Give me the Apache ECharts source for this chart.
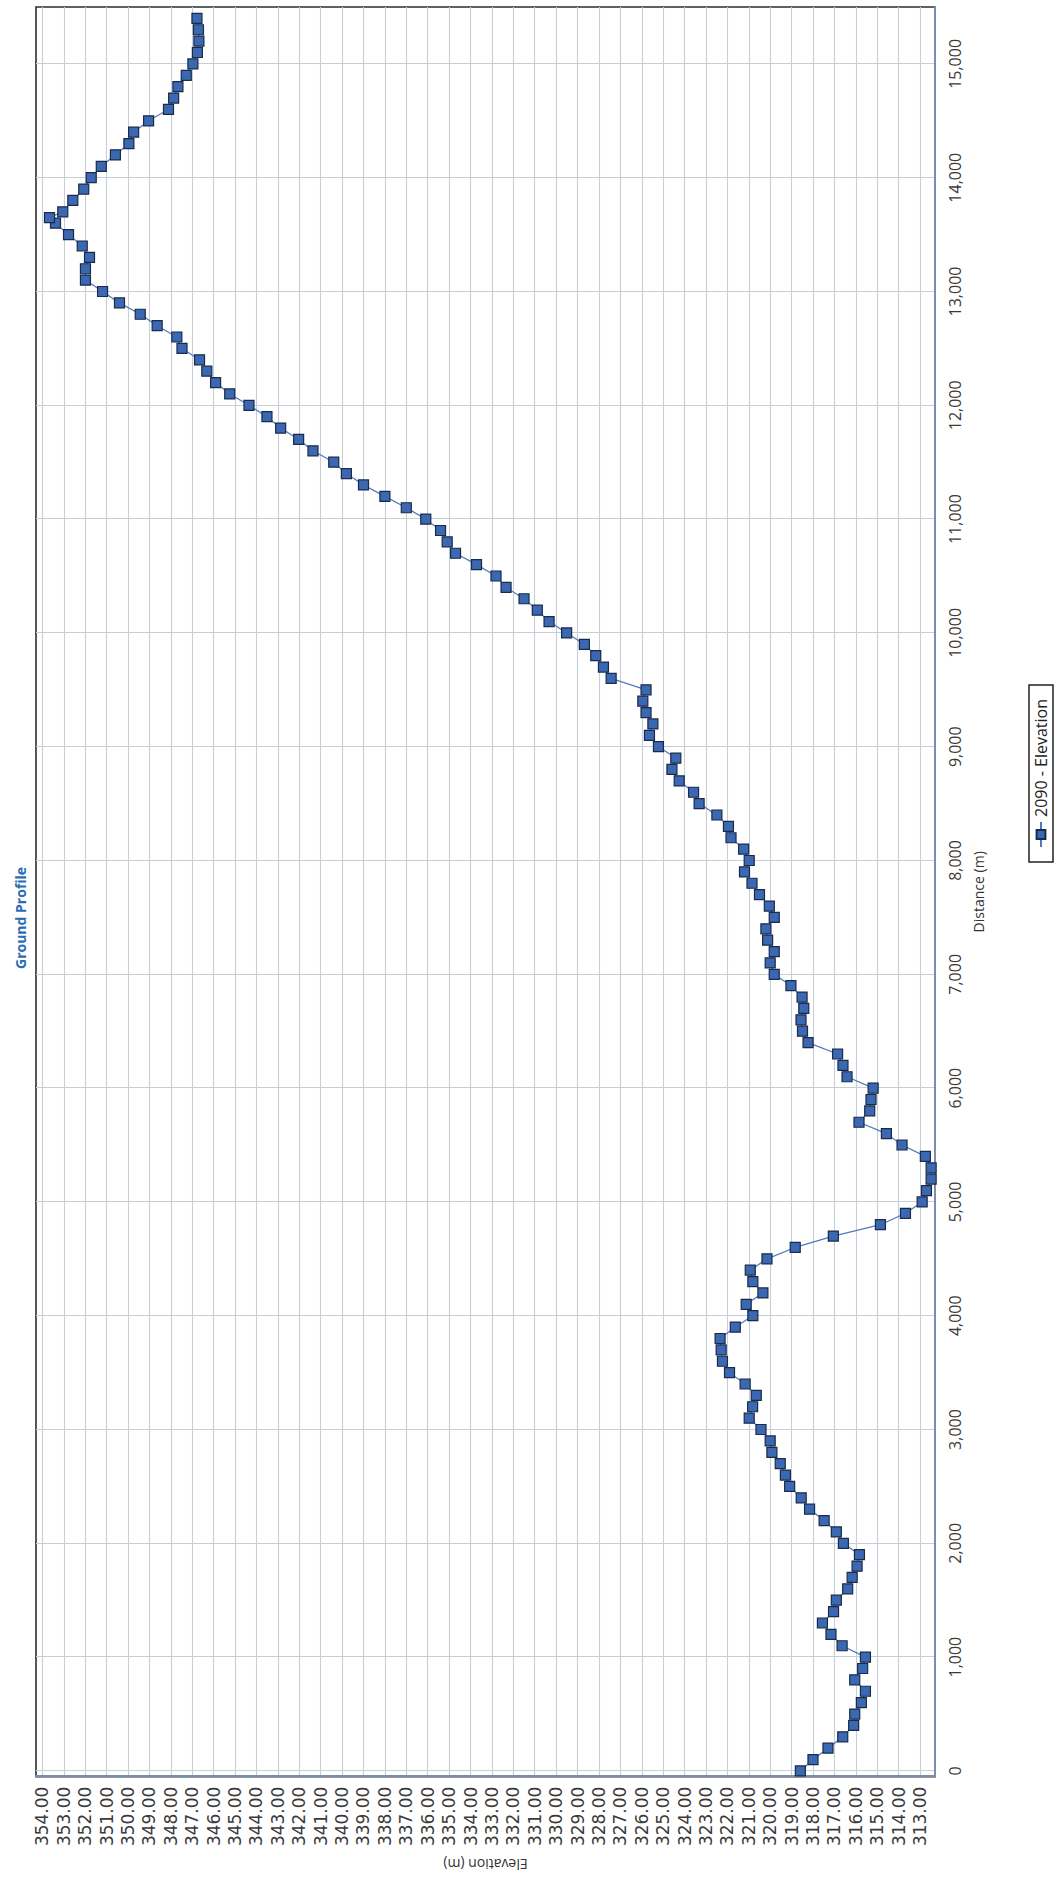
<!DOCTYPE html>
<html>
<head>
<meta charset="utf-8">
<script src="https://cdn.jsdelivr.net/npm/echarts@6/dist/echarts.min.js"></script>
<style>
  html, body { margin: 0; padding: 0; background: #ffffff; overflow: hidden; }
  body { width: 1058px; height: 1879px; position: relative; }
  /* the profile is laid out landscape and turned a quarter turn to fit the portrait page */
  #turn {
    position: absolute; left: 0; top: 0;
    width: 1879px; height: 1058px;
    transform-origin: 0 0;
    transform: translateY(1879px) rotate(-90deg);
  }
  #chart { width: 1879px; height: 1058px; }
</style>
</head>
<body>
<div id="turn"><div id="chart"></div></div>
<script>
// Station chainage along the alignment (m)
const distances = [
  0, 100, 200, 300, 400, 500, 600, 700, 800, 900,
  1000, 1100, 1200, 1300, 1400, 1500, 1600, 1700, 1800, 1900,
  2000, 2100, 2200, 2300, 2400, 2500, 2600, 2700, 2800, 2900,
  3000, 3100, 3200, 3300, 3400, 3500, 3600, 3700, 3800, 3900,
  4000, 4100, 4200, 4300, 4400, 4500, 4600, 4700, 4800, 4900,
  5000, 5100, 5200, 5300, 5400, 5500, 5600, 5700, 5800, 5900,
  6000, 6100, 6200, 6300, 6400, 6500, 6600, 6700, 6800, 6900,
  7000, 7100, 7200, 7300, 7400, 7500, 7600, 7700, 7800, 7900,
  8000, 8100, 8200, 8300, 8400, 8500, 8600, 8700, 8800, 8900,
  9000, 9100, 9200, 9300, 9400, 9500, 9600, 9700, 9800, 9900,
  10000, 10100, 10200, 10300, 10400, 10500, 10600, 10700, 10800, 10900,
  11000, 11100, 11200, 11300, 11400, 11500, 11600, 11700, 11800, 11900,
  12000, 12100, 12200, 12300, 12400, 12500, 12600, 12700, 12800, 12900,
  13000, 13100, 13200, 13300, 13400, 13500, 13600, 13650, 13700, 13800, 13900,
  14000, 14100, 14200, 14300, 14400, 14500, 14600, 14700, 14800, 14900,
  15000, 15100, 15200, 15300, 15400
];

// Ground elevation at each station (m)
const elevations = [
  318.59, 318.00, 317.30, 316.61, 316.10, 316.05, 315.74, 315.55, 316.05, 315.68,
  315.55, 316.64, 317.16, 317.56, 317.04, 316.91, 316.38, 316.17, 315.94, 315.83,
  316.58, 316.91, 317.48, 318.16, 318.55, 319.09, 319.29, 319.53, 319.92, 320.00,
  320.43, 320.98, 320.82, 320.65, 321.17, 321.90, 322.23, 322.29, 322.34, 321.63,
  320.81, 321.12, 320.34, 320.81, 320.93, 320.15, 318.83, 317.05, 314.85, 313.68,
  312.90, 312.70, 312.48, 312.48, 312.75, 313.84, 314.57, 315.85, 315.35, 315.29,
  315.19, 316.41, 316.60, 316.85, 318.23, 318.49, 318.56, 318.43, 318.51, 319.03,
  319.81, 320.00, 319.81, 320.12, 320.20, 319.81, 320.04, 320.50, 320.85, 321.20,
  320.98, 321.24, 321.83, 321.95, 322.49, 323.32, 323.58, 324.25, 324.59, 324.41,
  325.22, 325.64, 325.48, 325.80, 325.95, 325.80, 327.43, 327.79, 328.15, 328.68,
  329.51, 330.33, 330.88, 331.50, 332.34, 332.81, 333.72, 334.70, 335.09, 335.40,
  336.09, 337.00, 338.00, 339.00, 339.80, 340.39, 341.36, 342.03, 342.87, 343.51,
  344.35, 345.25, 345.91, 346.32, 346.66, 347.48, 347.72, 348.64, 349.43, 350.40,
  351.19, 351.99, 351.99, 351.80, 352.14, 352.78, 353.39, 353.67, 353.05, 352.58, 352.07,
  351.72, 351.25, 350.59, 349.96, 349.74, 349.04, 348.11, 347.87, 347.67, 347.28,
  346.97, 346.76, 346.69, 346.71, 346.78
];

// Axis ticks
const distanceTicks = [0, 1000, 2000, 3000, 4000, 5000, 6000, 7000, 8000,
  9000, 10000, 11000, 12000, 13000, 14000, 15000];
const elevationTicks = [313, 314, 315, 316, 317, 318, 319, 320, 321, 322, 323,
  324, 325, 326, 327, 328, 329, 330, 331, 332, 333, 334, 335, 336, 337, 338,
  339, 340, 341, 342, 343, 344, 345, 346, 347, 348, 349, 350, 351, 352, 353, 354];

const seriesName = '2090 - Elevation';

const points = distances.map((d, i) => [d, elevations[i]]);

const chart = echarts.init(document.getElementById('chart'), null, { renderer: 'svg' });

const gridLine = { show: true, lineStyle: { color: '#c8ced8', width: 1.1 } };

chart.setOption({
  animation: false,
  backgroundColor: '#ffffff',
  title: {
    text: 'Ground Profile',
    left: 905,
    top: 8,
    textStyle: { fontFamily: 'Open Sans', fontSize: 14, fontWeight: 'bold', color: '#2b6cb4' }
  },
  legend: {
    data: [seriesName],
    left: 1017,
    top: 1029,
    orient: 'horizontal',
    padding: [4, 14],
    itemWidth: 25,
    itemHeight: 11,
    itemGap: 6,
    backgroundColor: '#ffffff',
    borderColor: '#222222',
    borderWidth: 1.5,
    textStyle: { fontFamily: 'Open Sans', fontSize: 16, color: '#222222' }
  },
  grid: { left: 96, right: 7, top: 36, bottom: 123, show: true, borderColor: '#2e2e2e', borderWidth: 1.6 },
  xAxis: {
    type: 'value',
    min: -50,
    max: 15500,
    name: 'Distance (m)',
    nameLocation: 'middle',
    nameGap: 36,
    nameTextStyle: { fontFamily: 'Open Sans', fontSize: 14, color: '#333333' },
    axisLine: { show: true, onZero: false, lineStyle: { color: '#7b8db3', width: 2 } },
    axisTick: { show: false, customValues: distanceTicks },
    axisLabel: {
      customValues: distanceTicks,
      margin: 12,
      fontFamily: 'Open Sans',
      fontSize: 16,
      color: '#3a3a3a',
      formatter: v => v.toLocaleString('en-US')
    },
    splitLine: gridLine
  },
  yAxis: {
    type: 'value',
    min: 312.3,
    max: 354.3,
    name: 'Elevation (m)',
    nameLocation: 'middle',
    nameRotate: 90,
    nameGap: 80,
    nameTextStyle: { fontFamily: 'Open Sans', fontSize: 14, color: '#333333' },
    axisLine: { show: true, onZero: false, lineStyle: { color: '#7b8db3', width: 2 } },
    axisTick: { show: false, customValues: elevationTicks },
    axisLabel: {
      customValues: elevationTicks,
      margin: 10,
      fontFamily: 'DejaVu Sans',
      fontSize: 17,
      color: '#3a3a3a',
      formatter: v => v.toFixed(2)
    },
    splitLine: gridLine
  },
  series: [{
    name: seriesName,
    type: 'line',
    data: points,
    symbol: 'rect',
    symbolSize: 10,
    itemStyle: { color: '#3b68b2', borderColor: '#1b2a48', borderWidth: 1.2 },
    lineStyle: { color: '#4f78bd', width: 1.2 }
  }]
});
</script>
</body>
</html>
